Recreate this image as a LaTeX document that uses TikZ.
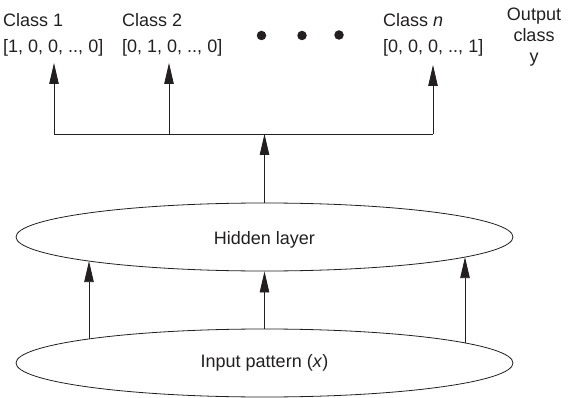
\documentclass[tikz,border=0pt]{standalone}
\usepackage{fontspec}
\setmainfont{Liberation Sans}
\usetikzlibrary{shapes.geometric,arrows.meta}
\definecolor{ink}{HTML}{231F20}
\tikzset{
  layer/.style={draw=ink, line width=0.8pt, ellipse, minimum width=497pt,
    minimum height=68pt, inner sep=0pt, font=\fontsize{18}{21}\selectfont, text=ink},
  lbl/.style={inner sep=0pt, font=\fontsize{18}{21}\selectfont, text=ink},
  wire/.style={draw=ink, line width=0.8pt},
  feed/.style={wire, -{Triangle[length=21pt,width=9.5pt]}},
  dot/.style={circle, fill=ink, minimum size=9.5pt, inner sep=0pt}
}
\begin{document}
\begin{tikzpicture}[x=1pt,y=-1pt]
\useasboundingbox (0,0) rectangle (570,398);

% layers
\node[layer] (hidden) at (264.5,237) {};
\node[lbl] (htext) at (264.5,239.5) {Hidden layer};
\node[layer] (input) at (264.5,363) {};
\node[lbl] (itext) at (264.5,363) {Input pattern (\textit{x})};

% output labels
\node[lbl, anchor=base west] (c1) at (3,27) {Class 1};
\node[lbl, anchor=base west] (v1) at (3,53) {[1, 0, 0, .., 0]};
\node[lbl, anchor=base west] (c2) at (122,27) {Class 2};
\node[lbl, anchor=base west] (v2) at (122,53) {[0, 1, 0, .., 0]};
\node[lbl, anchor=base west] (cn) at (383,27) {Class \textit{n}};
\node[lbl, anchor=base west] (vn) at (383,53) {[0, 0, 0, .., 1]};
\node[lbl, align=center, anchor=north] (oc) at (534,7.5) {Output\\class\\y};

% ellipsis dots
\node[dot] (d1) at (261.5,35.5) {};
\node[dot] (d2) at (302,35.5) {};
\node[dot] (d3) at (339,35) {};

% bus from hidden layer to the class outputs
\coordinate (bl) at (54,134);
\coordinate (b2) at (169,134);
\coordinate (bm) at (264.5,134);
\coordinate (br) at (433,134);
\coordinate (t1) at (54,63);
\coordinate (t2) at (169,63);
\coordinate (tn) at (433,65);
\draw[wire] (bl) -- (br);
\draw[feed] (hidden.north) -- (bm);
\draw[feed] (bl) -- (t1);
\draw[feed] (b2) -- (t2);
\draw[feed] (br) -- (tn);

% connections input -> hidden
\coordinate (i1) at (89,338.9);
\coordinate (h1) at (89,261.1);
\coordinate (i3) at (465,342.9);
\coordinate (h3) at (465,257.1);
\draw[feed] (i1) -- (h1);
\draw[feed] (input.north) -- (hidden.south);
\draw[feed] (i3) -- (h3);
\end{tikzpicture}
\end{document}
